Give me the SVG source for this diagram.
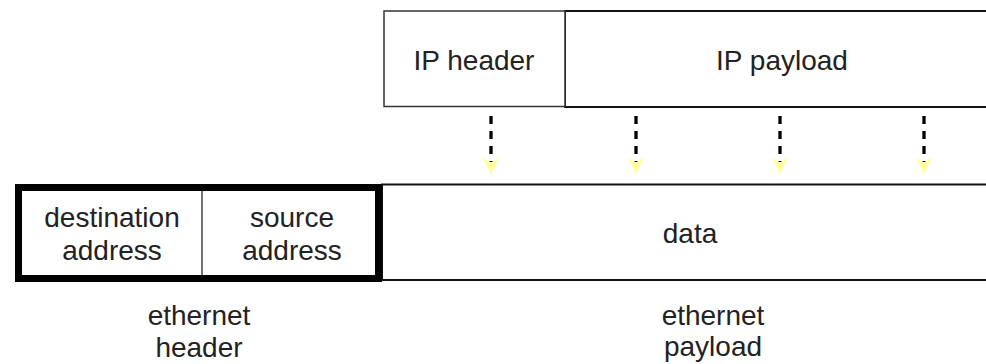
<svg xmlns="http://www.w3.org/2000/svg" width="986" height="364" viewBox="0 0 986 364">
  <style>
    text { font-family: "Liberation Sans", Arial, sans-serif; font-size: 28px; fill: #222; text-anchor: middle; }
    .box { fill: #fff; stroke: #111; stroke-width: 2; }
    .thin { fill: #fff; stroke: #333; stroke-width: 1.5; }
    .thick { fill: none; stroke: #000; stroke-width: 7; }
    .div { stroke: #444; stroke-width: 1.5; }
    .flow { fill: none; stroke: #000; stroke-width: 3.3; stroke-dasharray: 8 7; marker-end: url(#head); }
  </style>
  <defs>
    <marker id="head" markerUnits="userSpaceOnUse" viewBox="-5 -9 18 18" refX="0" refY="0" markerWidth="18" markerHeight="18" orient="auto" overflow="visible">
      <path d="M-4.3 -8.3 L12.3 0 L-4.3 8.3 L0.5 0 Z" fill="#FFFF9E"/>
    </marker>
  </defs>
  <rect width="986" height="364" fill="#fff"/>

  <g id="ip-payload">
    <rect class="box" x="565" y="11" width="440" height="96"/>
    <text x="782" y="70">IP payload</text>
  </g>
  <g id="ip-header">
    <rect class="thin" x="384" y="11" width="181" height="95.5"/>
    <text x="474" y="70">IP header</text>
  </g>

  <g id="data">
    <rect class="box" x="382" y="184.5" width="630" height="95.5"/>
    <text x="690" y="243">data</text>
  </g>

  <g id="ethernet-header">
    <line class="div" x1="202" y1="188" x2="202" y2="279"/>
    <rect class="thick" x="18.5" y="187.5" width="360" height="91"/>
  </g>
  <g id="destination-address">
    <text x="112" y="227">destination</text>
    <text x="112" y="260">address</text>
  </g>
  <g id="source-address">
    <text x="292" y="227">source</text>
    <text x="292" y="260">address</text>
  </g>

  <g id="ethernet-header-label">
    <text x="199" y="325">ethernet</text>
    <text x="199" y="357">header</text>
  </g>
  <g id="ethernet-payload-label">
    <text x="713" y="325">ethernet</text>
    <text x="713" y="356">payload</text>
  </g>

  <g id="connectors">
    <path class="flow" d="M491 116 V162"/>
    <path class="flow" d="M636 116 V162"/>
    <path class="flow" d="M780 116 V162"/>
    <path class="flow" d="M924 116 V162"/>
  </g>
</svg>
